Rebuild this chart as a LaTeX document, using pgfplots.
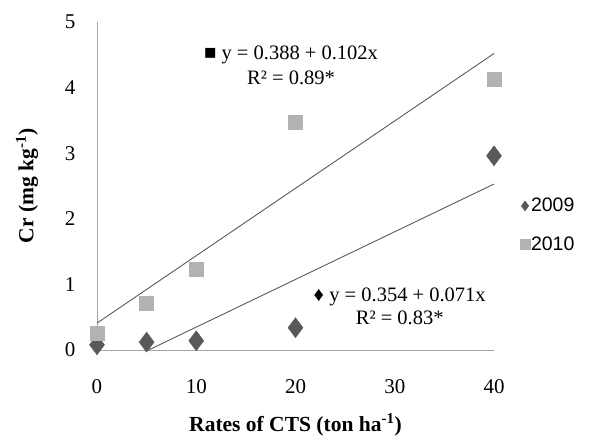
\documentclass[border=0pt]{standalone}
\usepackage{fontspec}
\setmainfont{Liberation Serif}
\newfontfamily\legfont{Liberation Sans}
\usepackage{pgfplots}
\pgfplotsset{compat=1.18}

\definecolor{dk}{HTML}{595959}
\definecolor{lt}{HTML}{B2B2B2}
\definecolor{ax}{HTML}{A6A6A6}

\begin{document}
\begin{tikzpicture}
\begin{axis}[
    scale only axis,
    width=397bp, height=328bp,
    xmin=0, xmax=40, ymin=0, ymax=5,
    clip=false,
    axis x line=bottom, axis y line=left,
    axis line style={-, ax, line width=0.8pt},
    xtick={0,10,20,30,40}, ytick={0,1,2,3,4,5},
    major tick length=0pt,
    /pgf/number format/assume math mode=true,
    tick label style={font=\fontsize{21bp}{24bp}\selectfont},
    xticklabel style={yshift=-26bp},
    yticklabel style={xshift=-18bp},
    xlabel={\textbf{Rates of CTS (ton ha\textsuperscript{-1})}},
    ylabel={\textbf{Cr (mg kg\textsuperscript{-1})}},
    label style={font=\fontsize{21.5bp}{24bp}\selectfont},
    xlabel style={at={(axis description cs:0.5,0)}, anchor=center, yshift=-75bp},
    ylabel style={at={(axis description cs:-0.176,0.5)}, anchor=center},
    legend style={draw=none, fill=none, at={(axis cs:42.6,2.33)}, anchor=north west,
        font=\legfont\fontsize{19.5bp}{22bp}\selectfont, row sep=21bp,
        inner sep=0pt, nodes={inner sep=1pt}},
    legend cell align=left,
]
\addplot[only marks, mark=diamond*, mark size=10bp, color=dk,
    legend image post style={mark size=5bp}]
  coordinates {(0,0.08) (5,0.12) (10,0.14) (20,0.34) (40,2.96)};
\addlegendentry{2009}
\addplot[only marks, mark=square*, mark size=7bp, color=lt,
    legend image post style={mark size=5bp}]
  coordinates {(0,0.25) (5,0.72) (10,1.23) (20,3.47) (40,4.13)};
\addlegendentry{2010}
\addplot[dk, line width=0.9pt, forget plot] coordinates {(0,0.41) (40,4.52)};
\addplot[dk, line width=0.9pt, forget plot] coordinates {(5.2,0) (40,2.53)};
\node[align=center, font=\fontsize{20.5bp}{25bp}\selectfont] at (axis cs:19.55,4.34)
  {■ y = 0.388 + 0.102x\\R² = 0.89*};
\node[align=center, font=\fontsize{20.5bp}{23bp}\selectfont] at (axis cs:30.5,0.66)
  {♦ y = 0.354 + 0.071x\\R² = 0.83*};
\end{axis}
\path[use as bounding box] (-97bp,-85bp) rectangle (492bp,350bp);
\end{tikzpicture}
\end{document}
